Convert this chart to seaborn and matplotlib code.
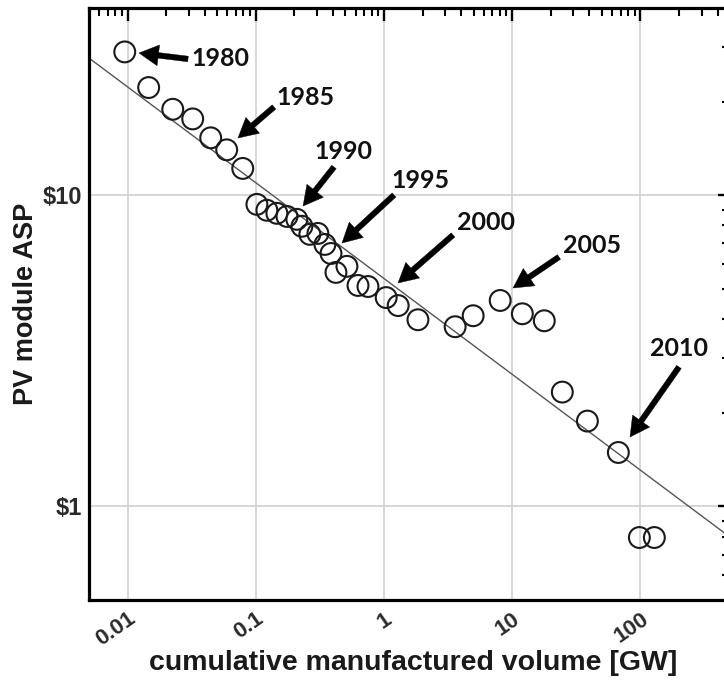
import numpy as np
import pandas as pd
import matplotlib
matplotlib.use("Agg")
import matplotlib.pyplot as plt
import seaborn as sns
from matplotlib.ticker import LogLocator, NullFormatter, FixedLocator, FixedFormatter

# ---------------- data ----------------
volume_gw = [0.0095, 0.0146, 0.0225, 0.0322, 0.0445, 0.0593, 0.0791,
             0.102, 0.122, 0.146, 0.175, 0.209, 0.229, 0.264, 0.305, 0.346, 0.386,
             0.422, 0.514, 0.627, 0.750, 1.04, 1.29, 1.84,
             3.59, 4.96, 8.06, 12.0, 17.8, 24.6, 38.6, 67.3, 98.2, 128.5]
asp_usd = [28.9, 22.2, 18.9, 17.6, 15.3, 14.0, 12.2,
           9.35, 8.95, 8.75, 8.55, 8.37, 7.95, 7.49, 7.54, 6.95, 6.50,
           5.65, 5.91, 5.13, 5.09, 4.69, 4.42, 3.98,
           3.78, 4.10, 4.59, 4.16, 3.95, 2.33, 1.88, 1.49, 0.794, 0.794]

# power-law experience curve  ASP = A * volume^b
fit_prefactor = 5.40
fit_exponent = -0.308
fit_range_gw = [0.005, 500]

x_tick_values = [0.01, 0.1, 1, 10, 100]
x_tick_labels = ["0.01", "0.1", "1", "10", "100"]
y_tick_values = [1, 10]
y_tick_labels = ["$1", "$10"]

year_labels = ["1980", "1985", "1990", "1995", "2000", "2005", "2010"]

# ---------------- layout (axes-fraction positions for annotations) ----------------
label_text_pos = [(0.2044, 0.9139), (0.3385, 0.8480), (0.3963, 0.7568), (0.5164, 0.7078),
                  (0.6193, 0.6385), (0.7847, 0.5980), (0.9204, 0.4240)]
arrow_tail_pos = [(0.1544, 0.9139), (0.2886, 0.8328), (0.3822, 0.7314), (0.4758, 0.6841),
                  (0.5679, 0.6166), (0.7332, 0.5794), (0.9204, 0.3936)]
arrow_tip_pos = [(0.0780, 0.9240), (0.2324, 0.7804), (0.3339, 0.6655), (0.3947, 0.6030),
                 (0.4821, 0.5355), (0.6615, 0.5270), (0.8440, 0.2753)]

df = pd.DataFrame({"volume": volume_gw, "asp": asp_usd})
fit_x = np.array(fit_range_gw, dtype=float)
fit_df = pd.DataFrame({"volume": fit_x, "asp": fit_prefactor * fit_x ** fit_exponent})

sns.set_style("white")
plt.rcParams["font.family"] = ["Liberation Sans", "DejaVu Sans"]

fig = plt.figure(figsize=(7.24, 6.81), dpi=100)
ax = fig.add_axes([89 / 724, 81 / 681, 641 / 724, 592 / 681])

ax.set_xscale("log")
ax.set_yscale("log")
ax.set_xlim(0.005, 500)
ax.set_ylim(0.5, 40)

# grid at decades
ax.grid(True, which="major", color="#d4d4d4", linewidth=1.3)
ax.set_axisbelow(True)

# fit line
sns.lineplot(data=fit_df, x="volume", y="asp", ax=ax, color="#555555",
             linewidth=1.0, zorder=2)

# data points
sns.scatterplot(data=df, x="volume", y="asp", ax=ax, s=225, marker="o",
                facecolor="none", edgecolor="#1a1a1a", linewidth=1.5, zorder=3)

# ticks
ax.xaxis.set_major_locator(FixedLocator(x_tick_values))
ax.xaxis.set_major_formatter(FixedFormatter(x_tick_labels))
ax.xaxis.set_minor_locator(LogLocator(base=10, subs=np.arange(2, 10), numticks=20))
ax.xaxis.set_minor_formatter(NullFormatter())
ax.yaxis.set_major_locator(FixedLocator(y_tick_values))
ax.yaxis.set_major_formatter(FixedFormatter(y_tick_labels))
ax.yaxis.set_minor_locator(LogLocator(base=10, subs=np.arange(2, 10), numticks=20))
ax.yaxis.set_minor_formatter(NullFormatter())

ax.tick_params(which="both", direction="in", top=True, right=True, color="black")
ax.tick_params(which="major", length=9, width=1.7)
ax.tick_params(which="minor", length=6, width=1.5)
ax.tick_params(axis="x", which="major", pad=6, labelsize=16, labelcolor="#2a2a2a")
ax.tick_params(axis="y", which="major", pad=5, labelsize=17, labelcolor="#2a2a2a")
for lab in ax.get_xticklabels():
    lab.set_rotation(35)
    lab.set_ha("right")
    lab.set_rotation_mode("anchor")
    lab.set_fontweight("bold")
for lab in ax.get_yticklabels():
    lab.set_fontweight("bold")

for sp in ax.spines.values():
    sp.set_linewidth(2.3)
    sp.set_color("black")

ax.set_xlabel("cumulative manufactured volume [GW]", fontsize=20.5, fontweight="bold",
              color="#1a1a1a")
ax.set_ylabel("PV module ASP", fontsize=19.5, fontweight="bold", color="#1a1a1a")
ax.xaxis.label.set_va("center")
ax.yaxis.label.set_va("center")
ax.xaxis.set_label_coords(0.506, -0.106)
ax.yaxis.set_label_coords(-0.099, 0.50)

# year annotations
for lab, tpos, tail, tip in zip(year_labels, label_text_pos, arrow_tail_pos, arrow_tip_pos):
    ax.annotate("", xy=tip, xytext=tail, xycoords="axes fraction", textcoords="axes fraction",
                arrowprops=dict(arrowstyle="simple,head_length=0.7,head_width=0.75,tail_width=0.2",
                                color="black", lw=0.3, shrinkA=0, shrinkB=0, mutation_scale=20),
                zorder=4)
    ax.text(tpos[0], tpos[1], lab, transform=ax.transAxes, ha="center", va="center",
            fontsize=18, fontweight="bold", family=["Lato", "DejaVu Sans"], color="#111111",
            zorder=4)

fig.savefig("out.png", dpi=100)
